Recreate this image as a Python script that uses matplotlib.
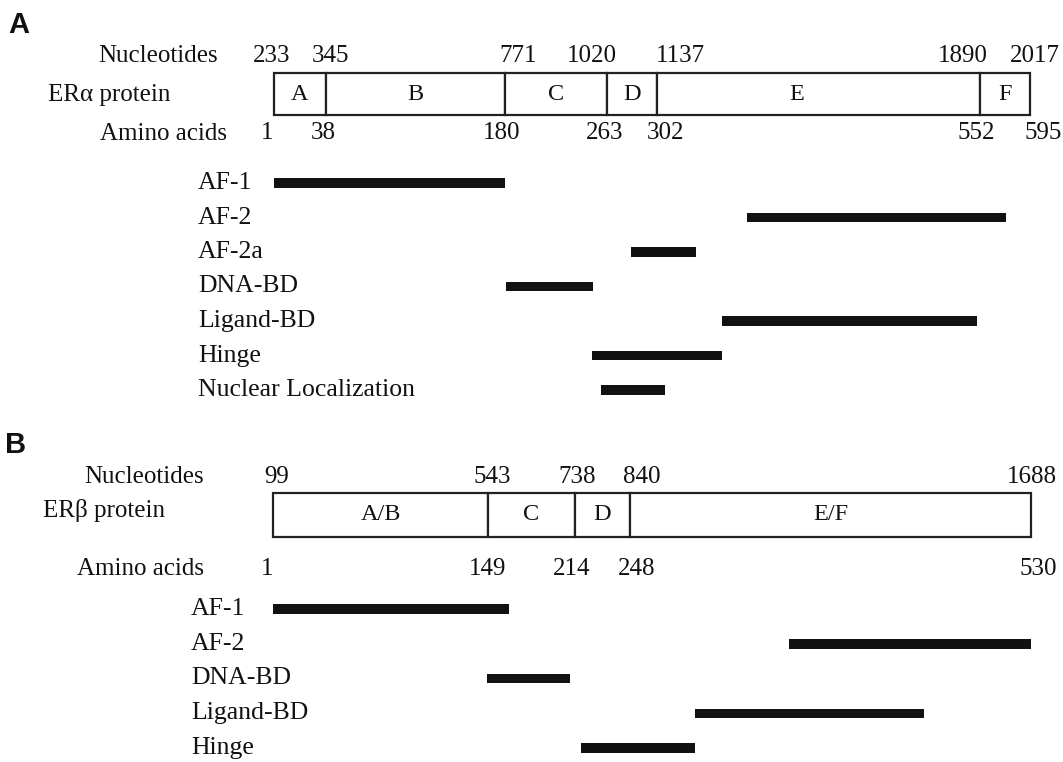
import numpy as np
import matplotlib.pyplot as plt

plt.rcParams['font.family'] = ['Liberation Serif', 'DejaVu Serif']

########## data ##########

# ER alpha
era_domains = ['A', 'B', 'C', 'D', 'E', 'F']
era_aa = [1, 38, 180, 263, 302, 552, 595]
era_nt = [233, 345, 771, 1020, 1137, 1890, 2017]
era_features = ['AF-1', 'AF-2', 'AF-2a', 'DNA-BD', 'Ligand-BD', 'Hinge',
                'Nuclear Localization']
era_start = [1, 372, 282, 181, 352, 251, 258]
era_end = [180, 574, 332, 252, 550, 352, 308]

# ER beta
erb_domains = ['A/B', 'C', 'D', 'E/F']
erb_aa = [1, 149, 214, 248, 530]
erb_nt = [99, 543, 738, 840, 1688]
erb_features = ['AF-1', 'AF-2', 'DNA-BD', 'Ligand-BD', 'Hinge']
erb_start = [1, 360, 148, 294, 218]
erb_end = [165, 530, 210, 455, 294]

########## layout (figure pixels) ##########

W, H = 1063, 762
INK = '#111111'

era_px = [274, 326, 505, 607, 657, 980, 1030]   # where boundaries sit
erb_px = [273, 488, 575, 630, 1031]

# small nudges of the number labels, px
era_nt_off = [-2, 4, 13, -15, 23, -17, 5]
era_aa_off = [-7, -3, -3, -2, 8, -4, 13]
erb_nt_off = [4, 4, 2, 12, 1]
erb_aa_off = [-6, 0, -3, 7, 7]


def schematic_scale(aa, px):
    # piecewise linear aa -> px, extended linearly past both ends
    aa = np.asarray(aa, float)
    px = np.asarray(px, float)
    lo = (px[1] - px[0]) / (aa[1] - aa[0])
    hi = (px[-1] - px[-2]) / (aa[-1] - aa[-2])
    a = np.r_[aa[0] - 5000, aa, aa[-1] + 5000]
    p = np.r_[px[0] - 5000 * lo, px, px[-1] + 5000 * hi]
    return (lambda x: np.interp(x, a, p)), (lambda y: np.interp(y, p, a))


def ftext(x, y, s, **kw):
    fig.text(x / W, 1 - y / H, s, color=INK, **kw)


def draw_panel(ax, aa, nt, px, domains, feats, starts, ends,
               nt_off, aa_off, nt_y, box_y, box_h, aa_y, feat_y0, feat_dy,
               feat_x, letter_nudge=None):
    fwd, inv = schematic_scale(aa, px)
    ax.set_xscale('function', functions=(fwd, inv))
    ax.set_xlim(inv(0), inv(W))
    ax.axis('off')

    # domain box
    ax.barh([box_y] * len(domains), np.diff(aa), left=aa[:-1], height=box_h,
            color='white', edgecolor='#222222', linewidth=1.6)
    mids = (fwd(np.array(aa[:-1], float)) + fwd(np.array(aa[1:], float))) / 2
    for i, (d, m) in enumerate(zip(domains, mids)):
        dx = 0 if letter_nudge is None else letter_nudge[i]
        ax.text(inv(m + dx), box_y, d, ha='center', va='center',
                fontsize=17.5, color=INK)

    # nucleotide and amino acid numbers
    for a, n, o in zip(aa, nt, nt_off):
        ax.annotate(str(n), (a, nt_y), xytext=(o * 0.72, 0),
                    textcoords='offset points', ha='center', va='center',
                    fontsize=18, color=INK)
    for a, o in zip(aa, aa_off):
        ax.annotate(str(a), (a, aa_y), xytext=(o * 0.72, 0),
                    textcoords='offset points', ha='center', va='center',
                    fontsize=18, color=INK)

    # functional regions
    ys = feat_y0 + feat_dy * np.arange(len(feats))
    ax.barh(ys, np.subtract(ends, starts), left=starts, height=9.5, color=INK)
    for f, y in zip(feats, ys):
        ftext(feat_x, y, f, ha='left', va='center', fontsize=18.5)


fig = plt.figure(figsize=(W / 100, H / 100), dpi=100)
fig.patch.set_facecolor('white')

split = 425
axA = fig.add_axes([0, 1 - split / H, 1, split / H])
axA.set_ylim(split, 0)
axB = fig.add_axes([0, 0, 1, 1 - split / H])
axB.set_ylim(H, split)

draw_panel(axA, era_aa, era_nt, era_px, era_domains, era_features,
           era_start, era_end, era_nt_off, era_aa_off,
           nt_y=56, box_y=94, box_h=42, aa_y=133,
           feat_y0=183, feat_dy=34.5, feat_x=198,
           letter_nudge=[0, 0, 0, 0, -22, 0])
draw_panel(axB, erb_aa, erb_nt, erb_px, erb_domains, erb_features,
           erb_start, erb_end, erb_nt_off, erb_aa_off,
           nt_y=477, box_y=515, box_h=44, aa_y=569,
           feat_y0=609, feat_dy=34.75, feat_x=191)

# row labels
ftext(98, 56, 'Nucleotides', ha='left', va='center', fontsize=18)
ftext(48, 95, 'ER\u03b1 protein', ha='left', va='center', fontsize=18)
ftext(100, 134, 'Amino acids', ha='left', va='center', fontsize=18)
ftext(84, 477, 'Nucleotides', ha='left', va='center', fontsize=18)
ftext(43, 511, 'ER\u03b2 protein', ha='left', va='center', fontsize=18)
ftext(77, 569, 'Amino acids', ha='left', va='center', fontsize=18)

# panel letters
ftext(8, 25, 'A', ha='left', va='center', fontsize=21, fontweight='bold',
      family='Liberation Sans')
ftext(5, 445, 'B', ha='left', va='center', fontsize=21, fontweight='bold',
      family='Liberation Sans')

fig.savefig('out.png', dpi=100, facecolor='white')
